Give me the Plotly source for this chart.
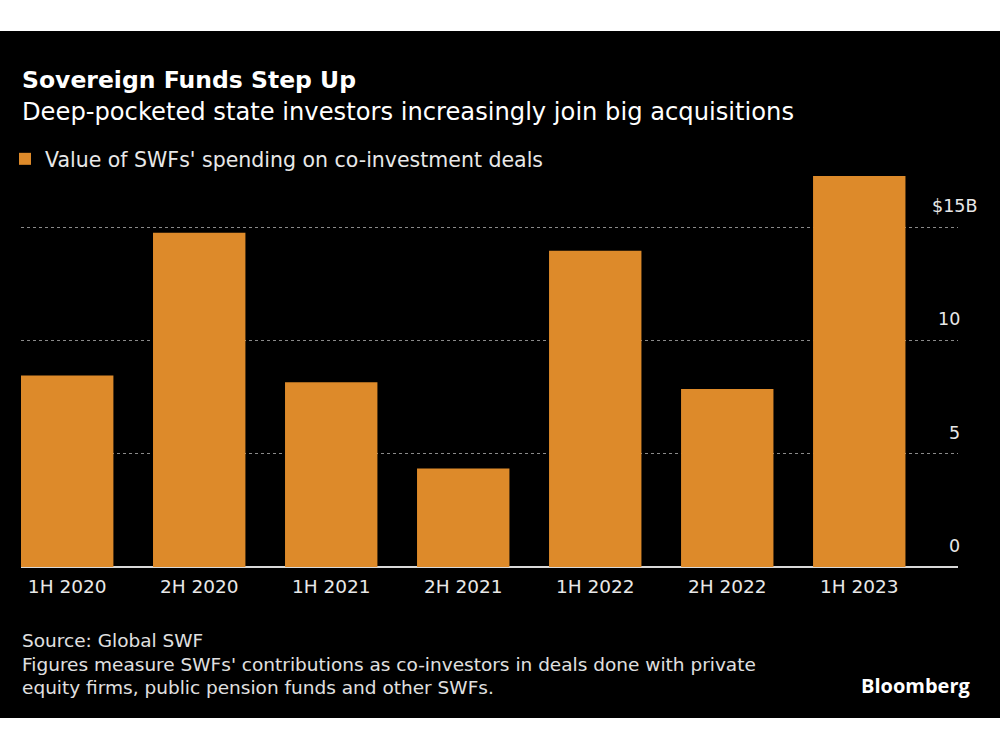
import plotly.graph_objects as go

# ---- data ----
periods = ["1H 2020", "2H 2020", "1H 2021", "2H 2021", "1H 2022", "2H 2022", "1H 2023"]
values = [8.45, 14.75, 8.15, 4.35, 13.95, 7.85, 17.25]
y_ticks = [0, 5, 10, 15]
y_tick_text = ["0", "5", "10", "$15B"]

title = "Sovereign Funds Step Up"
subtitle = "Deep-pocketed state investors increasingly join big acquisitions"
series_name = "Value of SWFs' spending on co-investment deals"
source = "Source: Global SWF"
note_lines = ["Figures measure SWFs' contributions as co-investors in deals done with private",
              "equity firms, public pension funds and other SWFs."]
brand = "Bloomberg"

# ---- layout geometry ----
W, H = 1000, 750
L, R, T, B = 21, 42, 159, 183
PW, PH = W - L - R, H - T - B
FONT = "DejaVu Sans"
BAR = "#DD8A2A"


def fx(px):
    return (px - L) / PW


def fy(py):
    return (H - B - py) / PH


fig = go.Figure()
fig.add_trace(go.Bar(x=periods, y=values, name=series_name, marker_color=BAR,
                     marker_line_width=0, width=0.70, showlegend=True))

ann = []
ann.append(dict(text="<b>" + title + "</b>", x=fx(20), y=fy(80), xanchor="left", yanchor="middle",
                font=dict(size=23.5, color="#ffffff", family=FONT)))
ann.append(dict(text=subtitle, x=fx(20), y=fy(112), xanchor="left", yanchor="middle",
                font=dict(size=24.2, color="#ffffff", family=FONT)))
ann.append(dict(text=source, x=fx(20), y=fy(640), xanchor="left", yanchor="middle",
                font=dict(size=18.5, color="#e0e0e0", family=FONT)))
for i, line in enumerate(note_lines):
    ann.append(dict(text=line, x=fx(20), y=fy(664 + 23 * i), xanchor="left", yanchor="middle",
                    font=dict(size=18.5, color="#e0e0e0", family=FONT)))
ann.append(dict(text="<b>" + brand + "</b>", x=fx(973), y=fy(685), xanchor="right", yanchor="middle",
                font=dict(size=20, color="#ffffff", family="Open Sans")))

for v, t in zip(y_ticks, y_tick_text):
    shift = 21 if t.endswith("B") else 4
    ann.append(dict(text=t, x=1, y=v, xref="paper", yref="y", xanchor="right", yanchor="middle",
                    xshift=shift, yshift=21, showarrow=False,
                    font=dict(size=17.5, color="#e8e8e8", family=FONT)))

for a in ann:
    a.setdefault("xref", "paper")
    a.setdefault("yref", "paper")
    a.setdefault("showarrow", False)

fig.update_layout(
    width=W, height=H,
    margin=dict(l=L, r=R, t=T, b=B, autoexpand=False),
    paper_bgcolor="#000000",
    plot_bgcolor="#000000",
    font=dict(family=FONT, color="#e8e8e8"),
    annotations=ann,
    shapes=[
        dict(type="rect", xref="paper", yref="paper", x0=fx(-5), x1=fx(W + 5), y0=fy(-5), y1=fy(31),
             fillcolor="#ffffff", line_width=0, layer="above"),
        dict(type="rect", xref="paper", yref="paper", x0=fx(-5), x1=fx(W + 5), y0=fy(H + 5), y1=fy(718),
             fillcolor="#ffffff", line_width=0, layer="above"),
    ],
    legend=dict(orientation="h", x=fx(5), y=fy(159), xanchor="left", yanchor="middle",
                font=dict(size=20.5, color="#e8e8e8", family=FONT), bgcolor="rgba(0,0,0,0)",
                itemclick=False),
    bargap=0.3,
)
fig.update_xaxes(range=[-0.35, 6.748], showgrid=False, zeroline=False, showline=False,
                 ticks="outside", ticklen=3, tickcolor="rgba(0,0,0,0)",
                 tickfont=dict(size=18.5, color="#e8e8e8", family=FONT), fixedrange=True)
fig.update_yaxes(range=[0, 18], tickvals=y_ticks, showticklabels=False,
                 showgrid=True, gridcolor="#8a8a8a", griddash="dot", gridwidth=1,
                 zeroline=True, zerolinecolor="#d8d8d8", zerolinewidth=2, showline=False,
                 fixedrange=True)

fig.write_html("out.html", config={"displayModeBar": False},
               post_script="document.body.style.margin='0';document.body.style.background='#fff';")
